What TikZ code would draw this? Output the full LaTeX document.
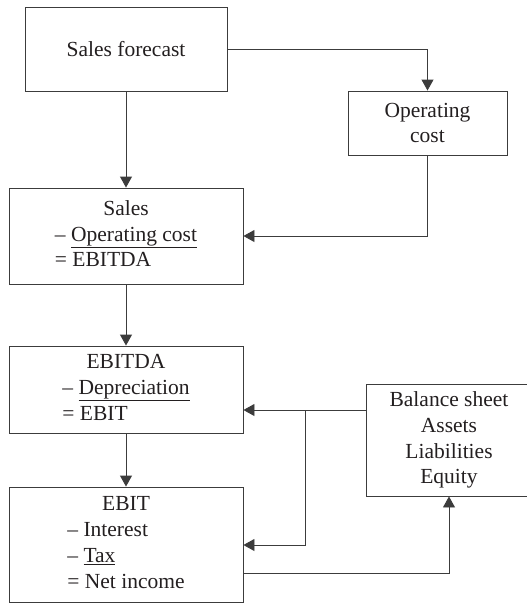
\documentclass[tikz,border=0pt]{standalone}
\usepackage{fontspec}
\setmainfont{Liberation Serif}
\usetikzlibrary{arrows.meta}
\definecolor{ink}{HTML}{231F20}
\definecolor{wire}{HTML}{3C3C3C}
\begin{document}
\begin{tikzpicture}[x=1pt,y=-1pt,
  box/.style={draw=wire,line width=0.9pt,inner sep=0pt,text=ink,
    font=\fontsize{21.5}{25.8}\selectfont},
  arr/.style={draw=wire,line width=0.9pt,-{Triangle[length=11pt,width=12pt]}},
  wire/.style={draw=wire,line width=0.9pt}]
  \clip (0,0) rectangle (527,603);

  % boxes
  \node[box,minimum width=202pt,minimum height=84pt] (sf) at (126,49) {Sales forecast};
  \node[box,minimum width=159pt,minimum height=64pt,align=center] (oc) at (427.5,123) {Operating\\cost};
  \node[box,minimum width=234pt,minimum height=96pt] (sales) at (126,236)
    {\begin{tabular}{@{}l@{}}\multicolumn{1}{@{}c@{}}{Sales}\\ – \underline{Operating cost}\\ = EBITDA\end{tabular}};
  \node[box,minimum width=234pt,minimum height=87pt] (ebitda) at (126,389.5)
    {\begin{tabular}{@{}l@{}}\multicolumn{1}{@{}c@{}}{EBITDA}\\ – \underline{Depreciation}\\ = EBIT\end{tabular}};
  \node[box,minimum width=234pt,minimum height=115pt] (ebit) at (126,544.5)
    {\begin{tabular}{@{}l@{}}\multicolumn{1}{@{}c@{}}{EBIT}\\ – Interest\\ – \underline{Tax}\\ = Net income\end{tabular}};
  \node[box,minimum width=166pt,minimum height=112pt,align=center] (bs) at (449,440)
    {Balance sheet\\Assets\\Liabilities\\Equity};

  % flow of figures
  \draw[arr] (sf.south) -- (sales.north);
  \draw[arr] (sf.east) -| (oc.north);
  \draw[arr] (oc.south) |- (sales.east);
  \draw[arr] (sales.south) -- (ebitda.north);
  \draw[arr] (ebitda.south) -- (ebit.north);

  % balance sheet feeds depreciation, interest and tax
  \coordinate (split) at (305,410);
  \draw[arr] (bs.west |- split) -- (ebitda.east |- split);
  \coordinate (ebitin) at (ebit.east |- 0,545);
  \draw[arr] (split) |- (ebitin);

  % net income back to the balance sheet
  \coordinate (ebitout) at (ebit.east |- 0,573);
  \draw[arr] (ebitout) -| (bs.south);
\end{tikzpicture}
\end{document}
